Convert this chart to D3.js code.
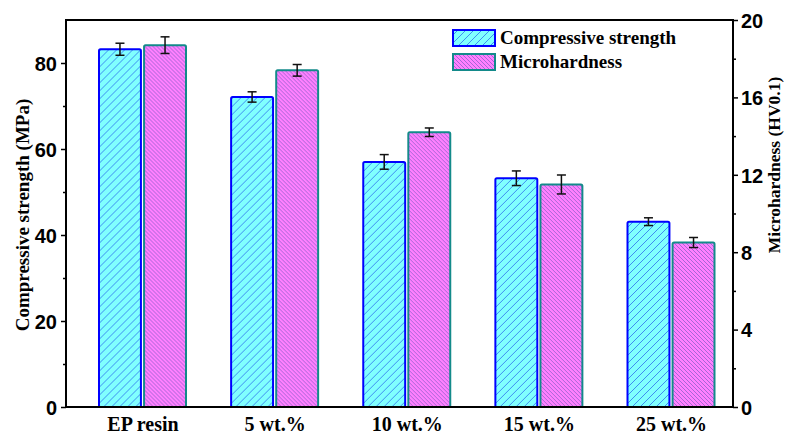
<!DOCTYPE html>
<html>
<head>
<meta charset="utf-8">
<script src="https://cdn.jsdelivr.net/npm/d3@7/dist/d3.min.js"></script>
<style>
  html, body { margin: 0; padding: 0; background: #fff; }
  svg { display: block; }
</style>
</head>
<body>
<svg id="chart" width="785" height="437"></svg>
<script>
// Sample groups and measured values
const categories = ["EP resin", "5 wt.%", "10 wt.%", "15 wt.%", "25 wt.%"];
const strength = [83.2, 72.1, 57.0, 53.2, 43.1];        // MPa
const strengthErr = [1.4, 1.2, 1.7, 1.7, 0.9];
const hardness = [18.7, 17.4, 14.2, 11.5, 8.5];         // HV0.1
const hardnessErr = [0.43, 0.30, 0.22, 0.49, 0.26];
const seriesNames = ["Compressive strength", "Microhardness"];
const leftTicks = [0, 20, 40, 60, 80];
const rightTicks = [0, 4, 8, 12, 16, 20];

const svg = d3.select("#chart");
const plot = { left: 66, right: 733, top: 20, bottom: 407 };

const x = d3.scalePoint().domain(categories).range([142.5, 671]);
const xInner = d3.scaleBand().domain(["s", "h"]).range([-43.5, 43.5]).paddingInner(0.07);
const yL = d3.scaleLinear().domain([0, 90]).range([plot.bottom, plot.top]);
const yR = d3.scaleLinear().domain([0, 20]).range([plot.bottom, plot.top]);

// Hatch fills
const defs = svg.append("defs");
const pc = defs.append("pattern").attr("id", "hatchCyan")
  .attr("patternUnits", "userSpaceOnUse").attr("width", 8).attr("height", 8);
pc.append("rect").attr("width", 8).attr("height", 8).attr("fill", "#80ffff");
pc.append("path").attr("d", "M-2,2 L2,-2 M0,8 L8,0 M6,10 L10,6")
  .attr("stroke", "#3d8ff0").attr("stroke-width", 1);

const pm = defs.append("pattern").attr("id", "hatchMagenta")
  .attr("patternUnits", "userSpaceOnUse").attr("width", 4).attr("height", 4);
pm.append("rect").attr("width", 4).attr("height", 4).attr("fill", "#ff80ff");
pm.append("path").attr("d", "M-1,-1 L5,5 M-1,3 L1,5 M3,-1 L5,1")
  .attr("stroke", "#a866d6").attr("stroke-width", 1);

const rows = categories.map((c, i) => ({
  cat: c, s: strength[i], se: strengthErr[i], h: hardness[i], he: hardnessErr[i]
}));

// Bars
const g = svg.append("g");
const groups = g.selectAll("g.grp").data(rows).join("g")
  .attr("class", "grp")
  .attr("transform", d => `translate(${x(d.cat)},0)`);

groups.append("rect")
  .attr("x", xInner("s")).attr("width", xInner.bandwidth())
  .attr("y", d => yL(d.s)).attr("height", d => yL(0) - yL(d.s))
  .attr("rx", 1.5)
  .attr("fill", "url(#hatchCyan)").attr("stroke", "#0000ff").attr("stroke-width", 2);

groups.append("rect")
  .attr("x", xInner("h")).attr("width", xInner.bandwidth())
  .attr("y", d => yR(d.h)).attr("height", d => yR(0) - yR(d.h))
  .attr("rx", 1.5)
  .attr("fill", "url(#hatchMagenta)").attr("stroke", "#138a8a").attr("stroke-width", 2);

// Error bars
function errorBar(sel, cx, yTop, yBot) {
  const e = sel.append("g").attr("stroke", "#111").attr("stroke-width", 1.5);
  e.append("line").attr("x1", cx).attr("x2", cx).attr("y1", yTop).attr("y2", yBot);
  e.append("line").attr("x1", cx - 4.5).attr("x2", cx + 4.5).attr("y1", yTop).attr("y2", yTop);
  e.append("line").attr("x1", cx - 4.5).attr("x2", cx + 4.5).attr("y1", yBot).attr("y2", yBot);
}
groups.each(function (d) {
  const sel = d3.select(this);
  const cs = xInner("s") + xInner.bandwidth() / 2;
  const ch = xInner("h") + xInner.bandwidth() / 2;
  errorBar(sel, cs, yL(d.s + d.se), yL(d.s - d.se));
  errorBar(sel, ch, yR(d.h + d.he), yR(d.h - d.he));
});

// Frame
svg.append("rect")
  .attr("x", plot.left).attr("y", plot.top)
  .attr("width", plot.right - plot.left).attr("height", plot.bottom - plot.top)
  .attr("fill", "none").attr("stroke", "#000").attr("stroke-width", 2);

// Axes
const tickFont = "bold 20px 'Liberation Sans', Arial, sans-serif";
const leftAxis = svg.append("g").attr("transform", `translate(${plot.left},0)`)
  .call(d3.axisLeft(yL).tickValues(leftTicks).tickSize(5).tickPadding(4));
const leftMinor = svg.append("g").attr("transform", `translate(${plot.left},0)`)
  .call(d3.axisLeft(yL).tickValues(d3.range(10, 90, 20)).tickSize(3).tickFormat(""));
const rightAxis = svg.append("g").attr("transform", `translate(${plot.right},0)`)
  .call(d3.axisRight(yR).tickValues(rightTicks).tickSize(5).tickPadding(3));
const rightMinor = svg.append("g").attr("transform", `translate(${plot.right},0)`)
  .call(d3.axisRight(yR).tickValues(d3.range(2, 20, 4)).tickSize(3).tickFormat(""));
const bottomAxis = svg.append("g").attr("transform", `translate(0,${plot.bottom})`)
  .call(d3.axisBottom(x).tickSize(0).tickPadding(10));

[leftAxis, leftMinor, rightAxis, rightMinor, bottomAxis].forEach(a => {
  a.select(".domain").remove();
  a.selectAll(".tick line").attr("stroke", "#000").attr("stroke-width", 1.5);
});
[leftAxis, rightAxis].forEach(a => a.selectAll("text")
  .style("font", tickFont).attr("fill", "#000").attr("dy", "0.36em"));
bottomAxis.selectAll("text")
  .style("font", "bold 20px 'Liberation Serif', 'Times New Roman', serif")
  .attr("fill", "#000").attr("dy", "0.71em");

// Axis titles
svg.append("text")
  .attr("transform", "translate(29,215) rotate(-90)")
  .attr("text-anchor", "middle")
  .style("font", "bold 19px 'Liberation Serif', 'Times New Roman', serif")
  .text("Compressive strength (MPa)");
svg.append("text")
  .attr("transform", "translate(780,165) rotate(-90)")
  .attr("text-anchor", "middle")
  .style("font", "bold 17.5px 'Liberation Serif', 'Times New Roman', serif")
  .text("Microhardness (HV0.1)");

// Legend
const legend = svg.append("g");
const legendItems = [
  { name: seriesNames[0], fill: "url(#hatchCyan)", stroke: "#0000ff", y: 30 },
  { name: seriesNames[1], fill: "url(#hatchMagenta)", stroke: "#138a8a", y: 54 }
];
legendItems.forEach(it => {
  legend.append("rect").attr("x", 453).attr("y", it.y).attr("width", 42).attr("height", 16)
    .attr("fill", it.fill).attr("stroke", it.stroke).attr("stroke-width", 2);
  legend.append("text").attr("x", 500).attr("y", it.y + 14)
    .style("font", "bold 19px 'Liberation Serif', 'Times New Roman', serif")
    .text(it.name);
});
</script>
</body>
</html>
